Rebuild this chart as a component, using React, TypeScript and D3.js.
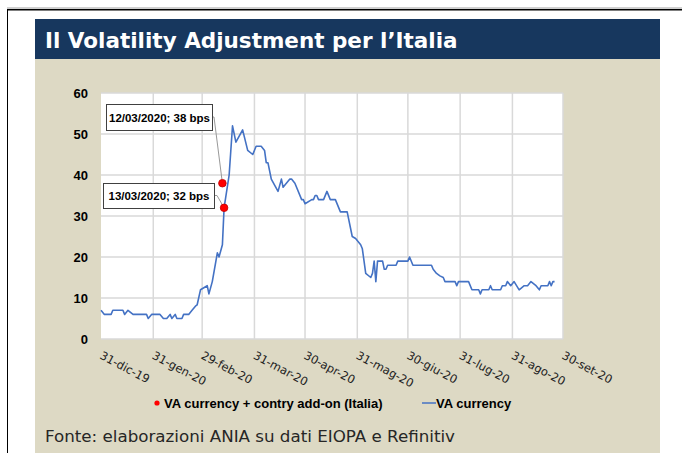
import React from "react";
import * as d3 from "d3";

// VA currency, bps
const vaDates = [
  "2019-12-31", "2020-01-02", "2020-01-06", "2020-01-07", "2020-01-13", "2020-01-14",
  "2020-01-16", "2020-01-19", "2020-01-27", "2020-01-28", "2020-01-30", "2020-02-04",
  "2020-02-06", "2020-02-08", "2020-02-10", "2020-02-11", "2020-02-13", "2020-02-14",
  "2020-02-17", "2020-02-18", "2020-02-21", "2020-02-23", "2020-02-25", "2020-02-26",
  "2020-02-28", "2020-03-03", "2020-03-04", "2020-03-06", "2020-03-09", "2020-03-10",
  "2020-03-12", "2020-03-13", "2020-03-16", "2020-03-18", "2020-03-20", "2020-03-24",
  "2020-03-27", "2020-03-30", "2020-04-01", "2020-04-04", "2020-04-06", "2020-04-07",
  "2020-04-08", "2020-04-10", "2020-04-14", "2020-04-16", "2020-04-17", "2020-04-21",
  "2020-04-22", "2020-04-24", "2020-04-28", "2020-04-29", "2020-04-30", "2020-05-04",
  "2020-05-05", "2020-05-06", "2020-05-07", "2020-05-08", "2020-05-11", "2020-05-13",
  "2020-05-15", "2020-05-18", "2020-05-21", "2020-05-25", "2020-05-28", "2020-05-30",
  "2020-06-02", "2020-06-03", "2020-06-05", "2020-06-08", "2020-06-09", "2020-06-10",
  "2020-06-11", "2020-06-12", "2020-06-15", "2020-06-16", "2020-06-17", "2020-06-18",
  "2020-06-23", "2020-06-24", "2020-06-30", "2020-07-01", "2020-07-03", "2020-07-14",
  "2020-07-15", "2020-07-17", "2020-07-19", "2020-07-21", "2020-07-22", "2020-07-28",
  "2020-07-29", "2020-07-30", "2020-08-05", "2020-08-07", "2020-08-11", "2020-08-12",
  "2020-08-13", "2020-08-17", "2020-08-18", "2020-08-19", "2020-08-24", "2020-08-25",
  "2020-08-27", "2020-08-28", "2020-08-30", "2020-09-01", "2020-09-04", "2020-09-07",
  "2020-09-09", "2020-09-11", "2020-09-14", "2020-09-16", "2020-09-17", "2020-09-21",
  "2020-09-22", "2020-09-23", "2020-09-24", "2020-09-25",
];
const vaValues = [
  7, 6, 6, 7, 7, 6,
  7, 6, 6, 5, 6, 6,
  5, 5, 6, 5, 6, 5,
  5, 6, 6, 7, 8, 8.3,
  12, 13, 11, 14, 21, 20,
  23, 32, 40, 52, 48, 51,
  46, 45, 47, 47, 46, 43,
  43, 39, 36, 39, 37, 39,
  39, 38, 34, 34, 33, 34,
  34, 35, 35, 34, 34, 36,
  34, 34, 31, 31, 25, 24.5,
  23, 22, 16, 15, 16, 19,
  14, 19, 19, 17, 17, 18,
  18, 19, 19, 20, 18, 18,
  17, 16, 15.4, 15, 14, 14,
  13, 14, 14, 12, 12, 11,
  12, 12, 13, 12, 12, 13,
  13, 14, 13, 14, 12, 13,
  13, 14, 13, 12, 13, 13,
  14, 13, 14, 14,
];

// VA currency + country add-on (Italia)
const addOnDates = ["2020-03-12", "2020-03-13"];
const addOnValues = [38, 32];
const addOnLabels = ["12/03/2020; 38 bps", "13/03/2020; 32 bps"];

const tickDates = [
  "2019-12-31", "2020-01-31", "2020-02-29", "2020-03-31", "2020-04-30",
  "2020-05-31", "2020-06-30", "2020-07-31", "2020-08-31", "2020-09-30",
];
const tickLabels = [
  "31-dic-19", "31-gen-20", "29-feb-20", "31-mar-20", "30-apr-20",
  "31-mag-20", "30-giu-20", "31-lug-20", "31-ago-20", "30-set-20",
];
const yTicks = [0, 10, 20, 30, 40, 50, 60];

const parse = d3.utcParse("%Y-%m-%d");

export default function App() {
  const width = 682;
  const height = 453;
  const plot = { left: 101, right: 563, top: 93, bottom: 339 };

  const x = d3
    .scaleUtc()
    .domain([parse(tickDates[0])!, parse(tickDates[tickDates.length - 1])!])
    .range([plot.left, plot.right]);
  const y = d3.scaleLinear().domain([0, 60]).range([plot.bottom, plot.top]);

  const series = vaDates.map((d, i) => ({ date: parse(d)!, value: vaValues[i] }));
  const line = d3
    .line<{ date: Date; value: number }>()
    .x((d) => x(d.date))
    .y((d) => y(d.value));

  const dots = addOnDates.map((d, i) => ({
    cx: x(parse(d)!),
    cy: y(addOnValues[i]),
  }));

  // label boxes placed to the left of the dots
  const boxes = [
    { x: 106, y: 104, w: 106, h: 26, elbow: 214 },
    { x: 103, y: 183, w: 111, h: 25, elbow: 217 },
  ];

  const sans = "'Liberation Sans', Arial, sans-serif";
  const verdana = "'DejaVu Sans', Verdana, sans-serif";

  return (
    <svg
      width={width}
      height={height}
      style={{ position: "absolute", left: 0, top: 0 }}
    >
      <rect width={width} height={height} fill="#fff" />
      {/* frame */}
      <line x1={7} x2={width} y1={8} y2={8} stroke="#a0a0a0" strokeWidth={1} />
      <line x1={7} x2={width} y1={9.75} y2={9.75} stroke="#000" strokeWidth={1.5} />
      <line x1={7.5} x2={7.5} y1={9} y2={height} stroke="#000" strokeWidth={1} />

      {/* panel */}
      <rect x={35} y={19} width={625} height={40} fill="#17375e" />
      <rect x={35} y={59} width={625} height={height - 59} fill="#ddd9c4" />
      <text
        x={45}
        y={48}
        fill="#fff"
        fontFamily={verdana}
        fontWeight="bold"
        fontSize={21.5}
      >
        Il Volatility Adjustment per l’Italia
      </text>

      {/* plot area */}
      <rect
        x={plot.left}
        y={plot.top}
        width={plot.right - plot.left}
        height={plot.bottom - plot.top}
        fill="#fff"
      />
      {yTicks.map((t) => (
        <line
          key={`gy${t}`}
          x1={plot.left}
          x2={plot.right}
          y1={y(t)}
          y2={y(t)}
          stroke="#d9d9d9"
          strokeWidth={1.5}
        />
      ))}
      {tickDates.slice(1).map((d) => (
        <line
          key={`gx${d}`}
          x1={x(parse(d)!)}
          x2={x(parse(d)!)}
          y1={plot.top}
          y2={plot.bottom}
          stroke="#d9d9d9"
          strokeWidth={1.5}
        />
      ))}

      {/* y labels */}
      {yTicks.map((t) => (
        <text
          key={`ly${t}`}
          x={88}
          y={y(t)}
          textAnchor="end"
          dominantBaseline="central"
          fontFamily={sans}
          fontWeight="bold"
          fontSize={13}
          fill="#000"
        >
          {t}
        </text>
      ))}

      {/* x labels */}
      {tickDates.map((d, i) => (
        <text
          key={`lx${d}`}
          transform={`translate(${x(parse(d)!) - 2},${358}) rotate(28)`}
          fontFamily={verdana}
          fontSize={11.5}
          fill="#222"
        >
          {tickLabels[i]}
        </text>
      ))}

      {/* VA currency line */}
      <path
        d={line(series) ?? ""}
        fill="none"
        stroke="#4472c4"
        strokeWidth={1.6}
        strokeLinejoin="round"
      />

      {/* annotations */}
      {boxes.map((b, i) => (
        <g key={`box${i}`}>
          <polyline
            points={`${b.x + b.w},${b.y + b.h / 2} ${b.elbow},${b.y + b.h / 2} ${dots[i].cx},${dots[i].cy}`}
            fill="none"
            stroke="#999"
            strokeWidth={1}
          />
          <rect
            x={b.x + 0.5}
            y={b.y + 0.5}
            width={b.w}
            height={b.h}
            fill="#fff"
            stroke="#404040"
            strokeWidth={1}
          />
          <text
            x={b.x + b.w / 2 + 0.5}
            y={b.y + b.h / 2 + 0.5}
            textAnchor="middle"
            dominantBaseline="central"
            fontFamily={sans}
            fontWeight="bold"
            fontSize={11.5}
            fill="#000"
          >
            {addOnLabels[i]}
          </text>
        </g>
      ))}
      {dots.map((d, i) => (
        <circle
          key={`dot${i}`}
          cx={d.cx}
          cy={d.cy}
          r={3.8}
          fill="#ff0000"
          stroke="#c00000"
          strokeWidth={0.8}
        />
      ))}

      {/* legend */}
      <circle cx={157} cy={403} r={2.6} fill="#ff0000" />
      <text x={164} y={407.5} fontFamily={sans} fontWeight="bold" fontSize={13} fill="#000">
        VA currency + contry add-on (Italia)
      </text>
      <line x1={422} x2={436} y1={403} y2={403} stroke="#4472c4" strokeWidth={1.5} />
      <text x={436} y={407.5} fontFamily={sans} fontWeight="bold" fontSize={13} fill="#000">
        VA currency
      </text>

      {/* source */}
      <text
        x={45}
        y={442}
        fontFamily={verdana}
        fontSize={16}
        fill="#262626"
        textLength={410}
        lengthAdjust="spacingAndGlyphs"
      >
        Fonte: elaborazioni ANIA su dati EIOPA e Refinitiv
      </text>
    </svg>
  );
}
